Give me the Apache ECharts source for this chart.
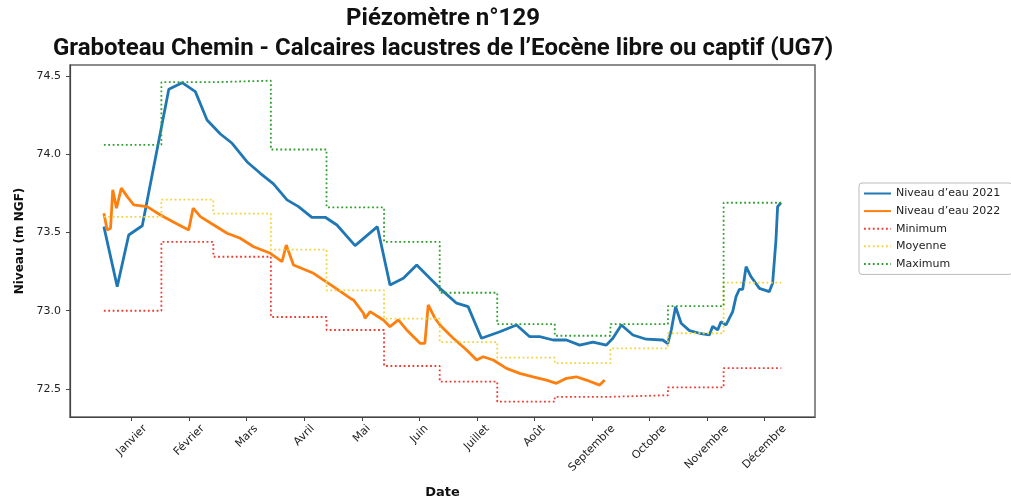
<!DOCTYPE html>
<html>
<head>
<meta charset="utf-8">
<title>Piézomètre n°129</title>
<style>
  html, body { margin:0; padding:0; background:#fff; }
  #chart { width:1011px; height:499px; }
</style>
<script src="https://cdn.jsdelivr.net/npm/echarts@6/dist/echarts.min.js"></script>
</head>
<body>
<div id="chart"></div>
<script>
// jours comptés depuis le 1er janvier
var debutsMois = [0, 31, 59, 90, 120, 151, 181, 212, 243, 273, 304, 334, 365];
var minimum = [73.00, 73.44, 73.345, 72.96, 72.877, 72.647, 72.547, 72.419, 72.45, 72.46, 72.51, 72.633];
var moyenne = [73.60, 73.71, 73.62, 73.39, 73.13, 72.95, 72.80, 72.70, 72.665, 72.76, 72.856, 73.18];
var maximum = [74.06, 74.46, 74.47, 74.03, 73.66, 73.44, 73.115, 72.915, 72.84, 72.915, 73.03, 73.69];

var jours2021 = [0, 7.2, 13.4, 20.7, 35, 42.2, 49.3, 55.6, 62.8, 69.1, 77.1, 84.3, 91.4, 98.7, 104.9,
  112.1, 119.3, 125.6, 135.4, 147.4, 154.2, 161.4, 168.6, 175.7, 181.1, 190.1, 196.3, 203.5, 213.4,
  222.4, 229.5, 234.9, 242.1, 249.3, 256.4, 263.6, 270.8, 274.3, 278.9, 285.1, 292.3, 301.2, 303.9,
  305.8, 308.1, 311.1, 315.6, 321, 326.3, 328.1, 330.8, 332.6, 335.3, 338.9, 340.7, 342.5, 344.3,
  346.1, 348.8, 353.3, 358.6, 360.4, 362.2, 363.1, 364.9];
var niveau2021 = [73.537, 73.154, 73.484, 73.543, 74.415, 74.457, 74.40, 74.219, 74.129, 74.07, 73.952,
  73.878, 73.81, 73.708, 73.665, 73.597, 73.597, 73.548, 73.416, 73.537, 73.165, 73.207, 73.292, 73.207,
  73.143, 73.048, 73.026, 72.824, 72.866, 72.909, 72.834, 72.834, 72.813, 72.813, 72.78, 72.80, 72.78,
  72.824, 72.909, 72.845, 72.818, 72.813, 72.79, 72.877, 73.026, 72.92, 72.873, 72.856, 72.845, 72.90,
  72.877, 72.93, 72.909, 72.994, 73.09, 73.137, 73.137, 73.281, 73.217, 73.143, 73.122, 73.175, 73.45,
  73.665, 73.69];

var jours2022 = [0, 1.8, 3.6, 4.8, 6.8, 9.4, 12.6, 16.1, 23.3, 30.5, 37.7, 45.7, 48.1, 52, 59.2, 66.4,
  73.5, 80.7, 89.7, 96, 98.3, 102.2, 113, 123.7, 132.7, 134.5, 139.9, 140.8, 143.5, 150.6, 154.2, 158.7,
  163.2, 170.4, 173, 174.8, 178.4, 181.1, 188.3, 195.5, 200.9, 204.4, 209.8, 217, 224.1, 231.3, 238.5,
  243.9, 249.3, 254.6, 260, 267.2, 269.9];
var niveau2022 = [73.623, 73.516, 73.527, 73.772, 73.655, 73.783, 73.729, 73.676, 73.665, 73.612, 73.565,
  73.516, 73.655, 73.601, 73.548, 73.495, 73.463, 73.409, 73.367, 73.313, 73.42, 73.292, 73.239, 73.154,
  73.08, 73.069, 72.984, 72.952, 72.994, 72.941, 72.898, 72.941, 72.877, 72.792, 72.792, 73.037, 72.952,
  72.909, 72.824, 72.749, 72.685, 72.706, 72.685, 72.632, 72.60, 72.578, 72.557, 72.536, 72.568, 72.578,
  72.557, 72.525, 72.557];

var posMois = [15, 46, 77, 108, 139, 170, 201, 232, 263, 294, 325, 356];
var nomsMois = ['Janvier', 'Février', 'Mars', 'Avril', 'Mai', 'Juin', 'Juillet', 'Août',
  'Septembre', 'Octobre', 'Novembre', 'Décembre'];
var ticksNiveau = [72.5, 73.0, 73.5, 74.0, 74.5];
var nomsSeries = ['Niveau d\u2019eau 2021', 'Niveau d\u2019eau 2022', 'Minimum', 'Moyenne', 'Maximum'];

function paires(xs, ys) {
  var out = [];
  for (var i = 0; i < xs.length; i++) out.push([xs[i], ys[i]]);
  return out;
}
// une marche par mois, jusqu'au 31 décembre
function escalier(vals) {
  var out = [];
  for (var i = 0; i < vals.length; i++) out.push([debutsMois[i], vals[i]]);
  out.push([debutsMois[vals.length], vals[vals.length - 1]]);
  return out;
}

// étiquettes inclinées centrées sous le tick, comme matplotlib
var tailleMois = 11;
var ctx = document.createElement('canvas').getContext('2d');
ctx.font = tailleMois + 'px "DejaVu Sans"';
var richMois = {};
nomsMois.forEach(function (m, i) {
  var p = (ctx.measureText(m).width + tailleMois) / 2;
  richMois['m' + i] = { padding: [p, p, 0, 0], fontFamily: 'DejaVu Sans', fontSize: tailleMois, color: '#222' };
});

var pointille = [1.8, 2.6];
var myChart = echarts.init(document.getElementById('chart'));
var option = {
  animation: false,
  title: {
    text: 'Piézomètre n°129\nGraboteau Chemin - Calcaires lacustres de l\u2019Eocène libre ou captif (UG7)',
    left: 443, top: 4, padding: 0, textAlign: 'center',
    textStyle: { fontFamily: 'Roboto', fontWeight: 'bold', fontSize: 24, lineHeight: 30, color: '#111' }
  },
  legend: {
    orient: 'vertical', left: 859, top: 183,
    padding: [5, 12, 5, 4], itemWidth: 27, itemHeight: 12, itemGap: 6.6,
    borderColor: '#bbb', borderWidth: 1, borderRadius: 3, backgroundColor: '#fff',
    itemStyle: { opacity: 0 },
    textStyle: { fontFamily: 'DejaVu Sans', fontSize: 11, color: '#222' },
    data: nomsSeries.map(function (n) { return { name: n, itemStyle: { opacity: 0 } }; })
  },
  grid: {
    left: 70, right: 196, top: 65, bottom: 82, outerBoundsMode: 'none',
    show: true, borderColor: '#666', borderWidth: 1.5
  },
  xAxis: {
    type: 'value', min: -18.25, max: 383.25,
    name: 'Date', nameLocation: 'middle', nameGap: 69,
    nameTextStyle: { fontFamily: 'DejaVu Sans', fontWeight: 'bold', fontSize: 13, color: '#111' },
    splitLine: { show: false },
    axisLine: { onZero: false, lineStyle: { color: '#444', width: 1.2 } },
    axisTick: { customValues: posMois, length: 4, lineStyle: { color: '#444' } },
    axisLabel: {
      customValues: posMois, rotate: 45, align: 'center', verticalAlign: 'middle', margin: 6,
      formatter: function (v) {
        var i = posMois.indexOf(v);
        return '{m' + i + '|' + nomsMois[i] + '}';
      },
      rich: richMois
    }
  },
  yAxis: {
    type: 'value', min: 72.321, max: 74.57,
    name: 'Niveau (m NGF)', nameLocation: 'middle', nameGap: 42,
    nameTextStyle: { fontFamily: 'DejaVu Sans', fontWeight: 'bold', fontSize: 12, color: '#111' },
    splitLine: { show: false },
    axisLine: { show: true, onZero: false, lineStyle: { color: '#444', width: 1.2 } },
    axisTick: { show: true, customValues: ticksNiveau, length: 4, lineStyle: { color: '#444' } },
    axisLabel: {
      customValues: ticksNiveau, margin: 9,
      fontFamily: 'DejaVu Sans', fontSize: 11, color: '#222',
      formatter: function (v) { return v.toFixed(1); }
    }
  },
  series: [
    { name: nomsSeries[0], type: 'line', symbol: 'none', data: paires(jours2021, niveau2021),
      lineStyle: { color: '#1f77b4', width: 2.8 }, itemStyle: { color: '#1f77b4' } },
    { name: nomsSeries[1], type: 'line', symbol: 'none', data: paires(jours2022, niveau2022),
      lineStyle: { color: '#ff7f0e', width: 2.8 }, itemStyle: { color: '#ff7f0e' } },
    { name: nomsSeries[2], type: 'line', symbol: 'none', step: 'end', data: escalier(minimum),
      lineStyle: { color: '#ee3b2f', width: 1.8, type: pointille }, itemStyle: { color: '#ee3b2f' } },
    { name: nomsSeries[3], type: 'line', symbol: 'none', step: 'end', data: escalier(moyenne),
      lineStyle: { color: '#f2d33a', width: 1.8, type: pointille }, itemStyle: { color: '#f2d33a' } },
    { name: nomsSeries[4], type: 'line', symbol: 'none', step: 'end', data: escalier(maximum),
      lineStyle: { color: '#2ca02c', width: 1.8, type: pointille }, itemStyle: { color: '#2ca02c' } }
  ]
};
myChart.setOption(option);
</script>
</body>
</html>
